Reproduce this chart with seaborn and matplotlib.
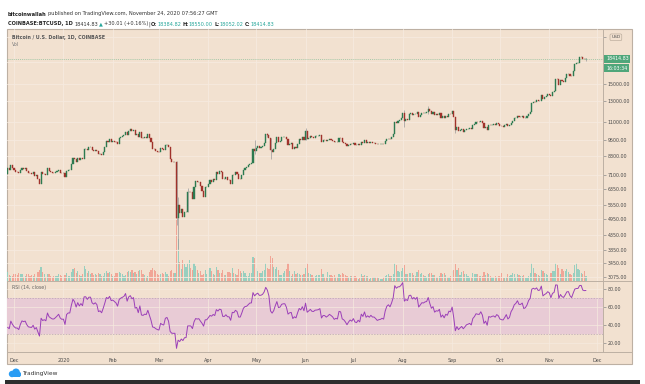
import numpy as np
import pandas as pd
import matplotlib
matplotlib.use("Agg")
import matplotlib.pyplot as plt
import matplotlib.dates as mdates
from matplotlib.patches import Rectangle, Ellipse
from matplotlib.lines import Line2D
from matplotlib.ticker import NullLocator
import seaborn as sns

# daily closes (BTC/USD, Coinbase); Nov 1-26 2019 only warm up the RSI
CLOSE_NOV19 = [9261, 9324, 9235, 9413, 9321, 9352, 9227, 8804, 8813, 9055, 8757, 8815, 8809, 8708, 8491,
               8502, 8506, 8178, 8123, 8084, 7612, 7280, 7324, 6909, 7047, 7146, 7507, 7419, 7739, 7541]
CLOSE_DEC19 = [7390, 7294, 7292, 7194, 7389, 7527, 7488, 7510, 7337, 7220, 7200, 7188, 7251, 7068, 7112,
               6881, 6616, 7277, 7150, 7187, 7132, 7500, 7317, 7255, 7204, 7202, 7254, 7317, 7388, 7247, 7193]
CLOSE_JAN20 = [7200, 6985, 7344, 7410, 7411, 7769, 8163, 8079, 7879, 8166, 8037, 8192, 8110, 8810, 8821,
               8720, 8913, 8916, 8706, 8658, 8745, 8680, 8406, 8445, 8368, 8597, 8910, 9358, 9316, 9508, 9350]
CLOSE_FEB20 = [9392, 9344, 9293, 9180, 9613, 9729, 9795, 9865, 10116, 9856, 10208, 10327, 10214, 10312, 9889,
               9934, 9690, 10141, 9633, 9608, 9686, 9663, 9924, 9650, 9341, 8820, 8784, 8672, 8599]
CLOSE_MAR20 = [8562, 8869, 8787, 8755, 9078, 9122, 8909, 8108, 7923, 7909, 7911, 4970, 5563, 5200, 5392,
               5014, 5225, 5238, 6191, 6198, 6185, 5830, 6416, 6734, 6681, 6716, 6469, 6243, 5922, 6429, 6438]
CLOSE_APR20 = [6606, 6793, 6733, 6867, 6792, 7271, 7176, 7334, 7302, 6865, 6859, 6971, 6845, 6842, 6623,
               7116, 7096, 7257, 7189, 6881, 6880, 7117, 7429, 7550, 7569, 7679, 7795, 7807, 8801, 8658]
CLOSE_MAY20 = [8864, 8988, 8897, 8912, 9003, 9268, 9951, 9842, 9593, 8756, 8601, 8804, 9269, 9733, 9328,
               9377, 9670, 9727, 9729, 9523, 9081, 9182, 9210, 8790, 8906, 8835, 9181, 9525, 9439, 9700, 9461]
CLOSE_JUN20 = [10167, 9529, 9656, 9800, 9665, 9653, 9758, 9771, 9795, 9870, 9321, 9480, 9475, 9386, 9450,
               9538, 9480, 9411, 9288, 9332, 9303, 9648, 9629, 9313, 9264, 9162, 9012, 9116, 9192, 9138]
CLOSE_JUL20 = [9232, 9086, 9058, 9135, 9069, 9342, 9257, 9436, 9232, 9288, 9234, 9303, 9243, 9243, 9192,
               9132, 9151, 9159, 9185, 9164, 9374, 9526, 9581, 9536, 9677, 9905, 10990, 10912, 11100, 11111, 11351]
CLOSE_AUG20 = [11802, 11071, 11233, 11186, 11742, 11769, 11602, 11754, 11676, 11881, 11410, 11584, 11784, 11769, 11865,
               11892, 12254, 11991, 11758, 11878, 11592, 11681, 11664, 11774, 11366, 11488, 11329, 11526, 11475, 11711, 11680]
CLOSE_SEP20 = [11970, 11415, 10245, 10511, 10169, 10280, 10370, 10131, 10242, 10364, 10400, 10443, 10324, 10681, 10796,
               10975, 10949, 10938, 11088, 10920, 10418, 10536, 10245, 10745, 10702, 10751, 10776, 10709, 10845, 10784]
CLOSE_OCT20 = [10620, 10585, 10572, 10670, 10795, 10603, 10668, 10925, 11060, 11296, 11384, 11555, 11429, 11429, 11506,
               11323, 11368, 11500, 11758, 11914, 12823, 12965, 12932, 13117, 13031, 13078, 13654, 13271, 13437, 13546, 13781]
CLOSE_NOV20 = [13737, 13550, 14024, 14148, 15590, 15580, 14834, 15479, 15332, 15290, 15701, 16276, 16317, 16068, 15955,
               16716, 17645, 17804, 17818, 18660, 18709, 18420, 18384.82, 18414.83]

# daily volume (thousand BTC), Nov 27 2019 onwards
VOL_NOV19 = [15, 10, 8, 8]
VOL_DEC19 = [11, 12, 10, 13, 12, 11, 7, 8, 11, 12, 9, 10, 9, 11, 7, 15, 18, 24, 15, 11, 7, 12, 11, 9, 7, 9, 8, 9, 11, 10, 9]
VOL_JAN20 = [6, 10, 14, 8, 9, 15, 20, 22, 14, 16, 10, 8, 11, 25, 20, 14, 16, 12, 14, 10, 11, 10, 14, 11, 8, 8, 14, 17, 13, 15, 11]
VOL_FEB20 = [9, 9, 14, 13, 15, 13, 12, 9, 10, 15, 16, 15, 18, 13, 15, 12, 17, 18, 19, 11, 10, 7, 8, 15, 18, 22, 18, 16, 12]
VOL_MAR20 = [10, 12, 14, 12, 15, 12, 9, 17, 18, 14, 14, 105, 70, 32, 20, 35, 28, 24, 30, 35, 22, 18, 30, 25, 18, 14, 17, 10, 11, 18, 11]
VOL_APR20 = [18, 22, 16, 11, 10, 24, 18, 14, 13, 18, 10, 10, 15, 15, 14, 22, 14, 11, 10, 20, 16, 14, 16, 13, 8, 8, 13, 13, 40, 38]
VOL_MAY20 = [22, 16, 14, 14, 16, 18, 30, 22, 20, 42, 38, 24, 20, 24, 18, 10, 10, 13, 16, 20, 30, 16, 8, 12, 16, 12, 14, 12, 10, 10, 11]
VOL_JUN20 = [22, 30, 14, 12, 10, 7, 8, 10, 10, 10, 20, 12, 6, 7, 15, 10, 10, 9, 10, 7, 6, 12, 10, 13, 12, 10, 8, 7, 8, 8]
VOL_JUL20 = [8, 8, 6, 4, 5, 11, 9, 10, 9, 8, 4, 5, 7, 7, 7, 7, 5, 4, 4, 6, 9, 10, 11, 8, 9, 12, 30, 26, 16, 15, 17]
VOL_AUG20 = [22, 26, 12, 12, 13, 13, 14, 10, 8, 15, 18, 12, 13, 10, 8, 7, 12, 13, 13, 10, 10, 6, 6, 8, 13, 12, 14, 10, 6, 6, 9]
VOL_SEP20 = [16, 18, 28, 18, 22, 10, 15, 16, 11, 11, 9, 6, 7, 13, 11, 12, 12, 9, 8, 8, 15, 10, 14, 12, 9, 6, 6, 8, 7, 8]
VOL_OCT20 = [9, 13, 5, 5, 7, 12, 8, 10, 13, 12, 7, 12, 10, 8, 9, 10, 5, 5, 8, 14, 30, 22, 14, 12, 10, 9, 18, 16, 14, 12, 10]
VOL_NOV20 = [9, 13, 16, 17, 30, 26, 22, 12, 20, 16, 17, 20, 15, 12, 10, 14, 26, 30, 20, 18, 14, 12, 16, 8]

# the long wicks that stand out (low, high)
WICKS = {
    "2020-03-12": (4700, 7980), "2020-03-13": (3858, 5950), "2020-03-19": (5250, 6400),
    "2020-04-30": (8420, 9460), "2020-05-08": (9700, 10067), "2020-05-10": (8117, 9590),
    "2020-06-01": (9430, 10428), "2020-08-02": (10550, 12123), "2020-08-17": (11680, 12486),
    "2020-09-03": (10000, 11450), "2020-11-24": (18052.02, 18550),
}

# 18000 and 22000 sit under the price / USD badges, so their labels stay blank
PRICE_TICKS = [3075, 3450, 3850, 4350, 4950, 5550, 6350, 7100, 8300, 9500, 11000, 13000, 15000, 18000, 22000]
PRICE_LABELS = ["3075.00", "3450.00", "3850.00", "4350.00", "4950.00", "5550.00", "6350.00", "7100.00",
                "8300.00", "9500.00", "11000.00", "13000.00", "15000.00", "", ""]
RSI_TICKS = [20, 40, 60, 80]
MONTH_LABELS = ["Dec", "2020", "Feb", "Mar", "Apr", "May", "Jun", "Jul", "Aug", "Sep", "Oct", "Nov", "Dec"]

TAN = "#f2e1d0"
FRAME = "#bdb0a3"
GRID = "#f6eadf"
UP, DOWN = "#2c7a50", "#a0322b"
VOL_UP, VOL_DOWN = "#98cfbf", "#f1a596"
PURPLE = "#9b3fb8"
BAND = "#e8cbd5"
TEAL = "#26a69a"
LABEL_GREEN = "#4fa67a"
TXT = "#4a4a4a"

W, H = 645, 384

sns.set_style("white")
plt.rcParams["font.family"] = ["DejaVu Sans"]

all_closes = (CLOSE_NOV19 + CLOSE_DEC19 + CLOSE_JAN20 + CLOSE_FEB20 + CLOSE_MAR20 + CLOSE_APR20 + CLOSE_MAY20
              + CLOSE_JUN20 + CLOSE_JUL20 + CLOSE_AUG20 + CLOSE_SEP20 + CLOSE_OCT20 + CLOSE_NOV20)
closes = pd.Series(all_closes, index=pd.date_range("2019-11-01", periods=len(all_closes), freq="D"))
volumes = (VOL_NOV19 + VOL_DEC19 + VOL_JAN20 + VOL_FEB20 + VOL_MAR20 + VOL_APR20 + VOL_MAY20
           + VOL_JUN20 + VOL_JUL20 + VOL_AUG20 + VOL_SEP20 + VOL_OCT20 + VOL_NOV20)

# RSI(14) with Wilder smoothing
delta = closes.diff().iloc[1:]
gain = delta.clip(lower=0).ewm(alpha=1 / 14, adjust=False).mean()
loss = (-delta.clip(upper=0)).ewm(alpha=1 / 14, adjust=False).mean()
rsi = 100 - 100 / (1 + gain / loss)

first = closes.index.get_loc(pd.Timestamp("2019-11-27"))
df = pd.DataFrame({"open": closes.shift(1), "close": closes, "rsi": rsi}).iloc[first:]
df["volume"] = volumes
df["x"] = mdates.date2num(df.index)
df["up"] = df["close"] >= df["open"]

fig = plt.figure(figsize=(W / 100, H / 100), dpi=100)
fig.patch.set_facecolor("white")


def fr(x0, y0, x1, y1):
    return [x0 / W, 1 - y1 / H, (x1 - x0) / W, (y1 - y0) / H]


def fline(xs, ys, **kw):
    fig.add_artist(Line2D([v / W for v in xs], [1 - v / H for v in ys], transform=fig.transFigure, **kw))


fig.add_artist(Rectangle((7 / W, 1 - 364 / H), 625 / W, 335 / H, transform=fig.transFigure,
                         facecolor=TAN, edgecolor=FRAME, lw=0.8, zorder=0))
fline([603, 603], [29, 352], color=FRAME, lw=0.7)
fline([7, 632], [281, 281], color=FRAME, lw=0.7)
fline([7, 632], [352, 352], color=FRAME, lw=0.7)

d0 = mdates.date2num(pd.Timestamp("2019-12-01"))
xlim = (d0 - 4.4, d0 + 369.7)
month_x = mdates.date2num(pd.date_range("2019-12-01", "2020-12-01", freq="MS"))

# volume underneath
ax_vol = fig.add_axes(fr(7, 29, 603, 281))
ax_vol.set_facecolor("none")
ax_vol.bar(df["x"], df["volume"], width=0.75, linewidth=0,
           color=np.where(df["up"], VOL_UP, VOL_DOWN))
ax_vol.set_xlim(xlim)
ax_vol.set_ylim(0, 420)
ax_vol.axis("off")

# price candles
ax = fig.add_axes(fr(7, 29, 603, 281))
ax.set_facecolor("none")
ax.set_yscale("log")
for day, (lo, hi) in WICKS.items():
    ax.vlines(mdates.date2num(pd.Timestamp(day)), lo, hi, color="#9a9a9a", lw=0.5, zorder=2)
bottoms = df[["open", "close"]].min(axis=1)
heights = (df["close"] - df["open"]).abs()
colors = np.where(df["up"], UP, DOWN)
ax.bar(df["x"], heights, bottom=bottoms, width=0.7, color=colors, edgecolor=colors, lw=0.3, zorder=3)
last = df["close"].iloc[-1]
ax.axhline(last, color="#8dbf9b", lw=0.5, ls=(0, (1.5, 1.5)), zorder=2)
ax.set_xlim(xlim)
ax.set_ylim(2975, 23550)
ax.set_yticks(PRICE_TICKS)
ax.set_yticklabels(PRICE_LABELS)
ax.yaxis.set_minor_locator(NullLocator())
ax.yaxis.tick_right()
ax.set_xticks(month_x)
ax.tick_params(axis="y", length=2, width=0.5, color="#8a8a8a", labelsize=3.4, labelcolor=TXT, pad=1.5)
ax.tick_params(axis="x", length=0, labelbottom=False)
ax.grid(True, color=GRID, lw=0.6)
ax.set_axisbelow(True)
for s in ax.spines.values():
    s.set_visible(False)

ax.annotate(f"{last:.2f}", xy=(1, last), xycoords=("axes fraction", "data"), xytext=(2.2, 0),
            textcoords="offset points", ha="left", va="center", fontsize=3.4, color="white",
            bbox=dict(boxstyle="square,pad=0.35", fc=LABEL_GREEN, ec="none"), annotation_clip=False, zorder=6)
ax.annotate("16:03:34", xy=(1, last), xycoords=("axes fraction", "data"), xytext=(2.2, -6.6),
            textcoords="offset points", ha="left", va="center", fontsize=3.4, color="white",
            bbox=dict(boxstyle="square,pad=0.35", fc=LABEL_GREEN, ec="none"), annotation_clip=False, zorder=6)
ax.annotate("USD", xy=(1, 22000), xycoords=("axes fraction", "data"), xytext=(6, 0),
            textcoords="offset points", ha="left", va="center", fontsize=3.2, color=TXT,
            bbox=dict(boxstyle="round,pad=0.3", fc=TAN, ec="#b0a292", lw=0.4), annotation_clip=False, zorder=6)

# RSI pane
ax_rsi = fig.add_axes(fr(7, 281, 603, 352))
ax_rsi.set_facecolor("none")
ax_rsi.axhspan(30, 70, color=BAND, lw=0, zorder=0)
ax_rsi.axhline(70, color="#b8a2b3", lw=0.5, ls=(0, (2, 2)), zorder=1)
ax_rsi.axhline(30, color="#b8a2b3", lw=0.5, ls=(0, (2, 2)), zorder=1)
sns.lineplot(x=df["x"].values, y=df["rsi"].values, ax=ax_rsi, color=PURPLE, linewidth=0.7, zorder=3)
ax_rsi.set_xlim(xlim)
ax_rsi.set_ylim(10, 89)
ax_rsi.set_yticks(RSI_TICKS)
ax_rsi.set_yticklabels([f"{v:.2f}" for v in RSI_TICKS])
ax_rsi.yaxis.tick_right()
ax_rsi.set_xticks(month_x)
ax_rsi.set_xticklabels(MONTH_LABELS)
ax_rsi.tick_params(axis="y", length=2, width=0.5, color="#8a8a8a", labelsize=3.4, labelcolor=TXT, pad=1.5)
ax_rsi.tick_params(axis="x", length=2, width=0.5, color="#8a8a8a", labelsize=3.5, labelcolor=TXT, pad=2)
ax_rsi.grid(True, color=GRID, lw=0.5)
ax_rsi.set_axisbelow(True)
ax_rsi.set_xlabel("")
ax_rsi.set_ylabel("")
for s in ax_rsi.spines.values():
    s.set_visible(False)

# texts
renderer = fig.canvas.get_renderer()


def text_run(x, y, parts, size):
    x = x / W
    for s, color, weight, gap in parts:
        t = fig.text(x, 1 - y / H, s, fontsize=size, color=color, weight=weight, ha="left", va="center")
        x += t.get_window_extent(renderer=renderer).width / W + gap / W


text_run(8, 14, [("bitcoinwallah", "#222222", "bold", 1.1),
                 ("published on TradingView.com, November 24, 2020 07:56:27 GMT", "#333333", "normal", 0)], 3.7)
text_run(8, 24, [("COINBASE:BTCUSD, 1D", "#222222", "bold", 1.4),
                 ("18414.83", "#333333", "normal", 1.1),
                 ("▲", TEAL, "normal", 0.7),
                 ("+30.01 (+0.16%)", "#333333", "normal", 0.4),
                 ("|", "#333333", "normal", 0.9),
                 ("O:", "#222222", "bold", 0.3), ("18384.82", TEAL, "normal", 1.1),
                 ("H:", "#222222", "bold", 0.3), ("18550.00", TEAL, "normal", 1.1),
                 ("L:", "#222222", "bold", 0.3), ("18052.02", TEAL, "normal", 1.1),
                 ("C:", "#222222", "bold", 0.3), ("18414.83", TEAL, "normal", 0)], 3.6)
fig.text(12 / W, 1 - 37 / H, "Bitcoin / U.S. Dollar, 1D, COINBASE", fontsize=3.4, color="#555555",
         weight="bold", va="center")
fig.text(12 / W, 1 - 44 / H, "Vol", fontsize=3.4, color="#777777", va="center")
fig.text(12 / W, 1 - 288 / H, "RSI (14, close)", fontsize=3.4, color="#666666", va="center")

# TradingView logo + footer bar
logo = fig.add_axes(fr(8, 368, 21, 378))
logo.set_xlim(0, 13)
logo.set_ylim(0, 10)
logo.axis("off")
for cx, cy, r in [(4, 4, 3.2), (8, 5.6, 3.9), (11, 3.6, 2.4)]:
    logo.add_patch(Ellipse((cx, cy), 2 * r, 2 * r, color="#2a9df4", lw=0))
logo.add_patch(Rectangle((3.5, 0.8), 8, 3, color="#2a9df4", lw=0))
fig.text(22 / W, 1 - 373 / H, "TradingView", fontsize=4.2, color="#333333", va="center")
fig.add_artist(Rectangle((5 / W, 0), 635 / W, 4 / H, transform=fig.transFigure, color="#2e2e2e", lw=0))

fig.savefig("out.png", dpi=100)
